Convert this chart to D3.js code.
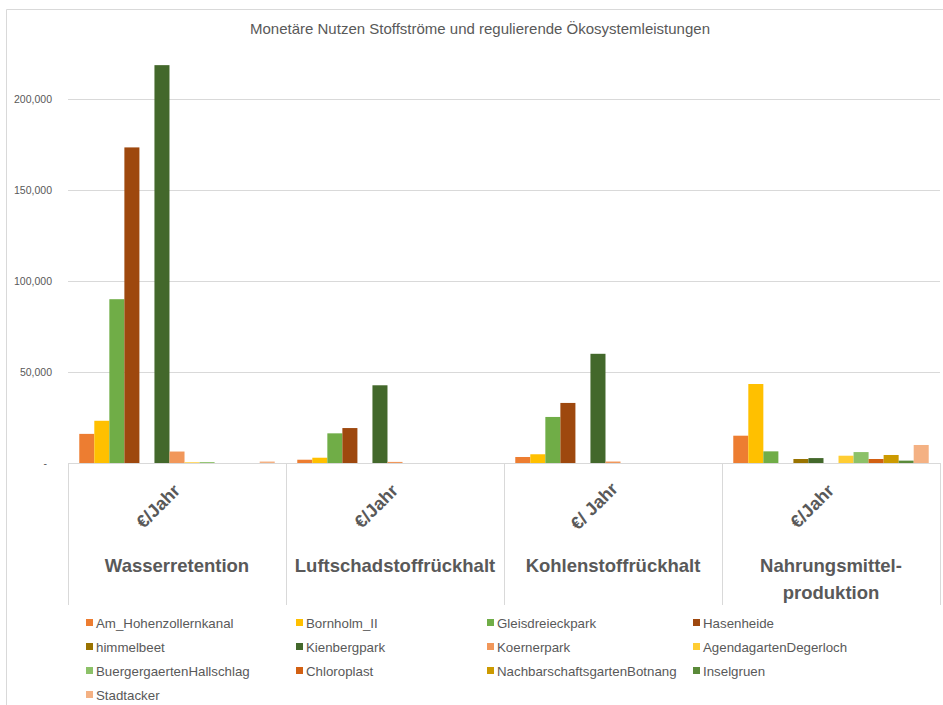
<!DOCTYPE html>
<html>
<head>
<meta charset="utf-8">
<script src="https://cdn.jsdelivr.net/npm/d3@7"></script>
<style>
  body { margin: 0; background: #fff; }
  svg { font-family: "Liberation Sans", Arial, sans-serif; }
  .axis path { display: none; }
  .axis line { stroke: #d9d9d9; }
  .axis text { fill: #595959; font-size: 10.5px; }
</style>
</head>
<body>
<svg width="943" height="705"></svg>
<script>
var categories = ["Wasserretention", "Luftschadstoffrückhalt", "Kohlenstoffrückhalt", "Nahrungsmittel-\nproduktion"];
var unitLabels = ["€/Jahr", "€/Jahr", "€/ Jahr", "€/Jahr"];

var seriesNames = ["Am_Hohenzollernkanal", "Bornholm_II", "Gleisdreieckpark", "Hasenheide",
  "himmelbeet", "Kienbergpark", "Koernerpark", "AgendagartenDegerloch",
  "BuergergaertenHallschlag", "Chloroplast", "NachbarschaftsgartenBotnang", "Inselgruen", "Stadtacker"];
var seriesColors = ["#ED7D31", "#FFC000", "#70AD47", "#9E480E", "#997300", "#43682B", "#F1975A",
  "#FFCD33", "#8CC168", "#D26012", "#CC9A00", "#5A8A39", "#F4B183"];

// values per category, in series order
var wasserretention = [16000, 23200, 90000, 173400, 0, 218600, 6300, 400, 500, 0, 0, 0, 800];
var luftschadstoff = [1800, 2900, 16300, 19200, 0, 42700, 600, 0, 0, 0, 0, 0, 0];
var kohlenstoff = [3300, 4800, 25300, 33000, 0, 60000, 800, 0, 0, 0, 0, 0, 0];
var nahrungsmittel = [15000, 43400, 6400, 0, 2200, 2700, 0, 4000, 6000, 2200, 4400, 1300, 9900];
var yTicks = [0, 50000, 100000, 150000, 200000];

var values = [wasserretention, luftschadstoff, kohlenstoff, nahrungsmittel];

var svg = d3.select("svg");
var left = 68, right = 940, zeroY = 463;

// chart border
svg.append("path")
    .attr("d", "M6.5,705 V9.5 H943")
    .attr("fill", "none")
    .attr("stroke", "#d9d9d9");

svg.append("text")
    .attr("x", 480)
    .attr("y", 34)
    .attr("text-anchor", "middle")
    .attr("fill", "#595959")
    .style("font-size", "15px")
    .text("Monetäre Nutzen Stoffströme und regulierende Ökosystemleistungen");

var x0 = d3.scaleBand().domain(categories).range([left, right]).paddingInner(0).paddingOuter(0);
var x1 = d3.scaleBand().domain(seriesNames).range([0, x0.bandwidth()]).paddingInner(0).paddingOuter(0.75);
var y = d3.scaleLinear().domain([0, 200000]).range([zeroY, 99]);

var yAxis = svg.append("g")
    .attr("class", "axis")
    .attr("transform", "translate(" + left + ",0)")
    .call(d3.axisLeft(y).tickValues(yTicks)
      .tickSize(-(right - left)).tickPadding(16)
      .tickFormat(function(d) { return d === 0 ? "-" : d3.format(",")(d); }));
yAxis.selectAll(".tick").filter(function(d) { return d === 0; }).select("line").remove();
yAxis.selectAll(".tick").filter(function(d) { return d === 0; }).select("text").attr("x", -21);

// bars
var groups = svg.selectAll(".grp")
    .data(categories)
    .enter().append("g")
      .attr("class", "grp")
      .attr("transform", function(c) { return "translate(" + x0(c) + ",0)"; });

groups.selectAll("rect")
    .data(function(c, i) { return values[i].map(function(v, j) { return {name: seriesNames[j], value: v, color: seriesColors[j]}; }); })
    .enter().append("rect")
      .attr("x", function(d) { return x1(d.name); })
      .attr("y", function(d) { return y(d.value); })
      .attr("width", x1.bandwidth())
      .attr("height", function(d) { return zeroY - y(d.value); })
      .attr("fill", function(d) { return d.color; });

// category axis box
svg.append("line")
    .attr("x1", left).attr("x2", right)
    .attr("y1", zeroY + 0.5).attr("y2", zeroY + 0.5)
    .attr("stroke", "#d9d9d9");

var bounds = categories.map(function(c) { return x0(c); }).concat([x0.range()[1]]);
svg.selectAll(".divider")
    .data(bounds)
    .enter().append("line")
      .attr("class", "divider")
      .attr("x1", function(d) { return Math.round(d) + 0.5; })
      .attr("x2", function(d) { return Math.round(d) + 0.5; })
      .attr("y1", zeroY).attr("y2", 605)
      .attr("stroke", "#d9d9d9");

// unit labels, rotated
svg.selectAll(".unit")
    .data(unitLabels)
    .enter().append("text")
      .attr("class", "unit")
      .attr("transform", function(d, i) {
        var cx = x0(categories[i]) + x0.bandwidth() / 2 - 19;
        return "translate(" + cx + ",506) rotate(-45)";
      })
      .attr("text-anchor", "middle")
      .attr("dy", "0.35em")
      .attr("fill", "#595959")
      .style("font-size", "18px")
      .style("font-weight", "bold")
      .text(function(d) { return d; });

// category labels
var catText = svg.selectAll(".cat")
    .data(categories)
    .enter().append("text")
      .attr("class", "cat")
      .attr("text-anchor", "middle")
      .attr("fill", "#595959")
      .style("font-size", "18.5px")
      .style("font-weight", "bold");
catText.each(function(c) {
  var lines = c.split("\n");
  var t = d3.select(this);
  lines.forEach(function(l, k) {
    t.append("tspan")
      .attr("x", x0(c) + x0.bandwidth() / 2)
      .attr("y", 572 + k * 27)
      .text(l);
  });
});

// legend
var legendCols = [96, 306, 497, 703];
var legend = svg.selectAll(".legend")
    .data(seriesNames)
    .enter().append("g")
      .attr("class", "legend")
      .attr("transform", function(d, i) {
        return "translate(" + legendCols[i % 4] + "," + (623 + Math.floor(i / 4) * 24) + ")";
      });
legend.append("rect")
    .attr("x", -10).attr("y", -4)
    .attr("width", 7).attr("height", 7)
    .attr("fill", function(d, i) { return seriesColors[i]; });
legend.append("text")
    .attr("dy", "0.35em")
    .attr("fill", "#595959")
    .style("font-size", "13.3px")
    .text(function(d) { return d; });
</script>
</body>
</html>
